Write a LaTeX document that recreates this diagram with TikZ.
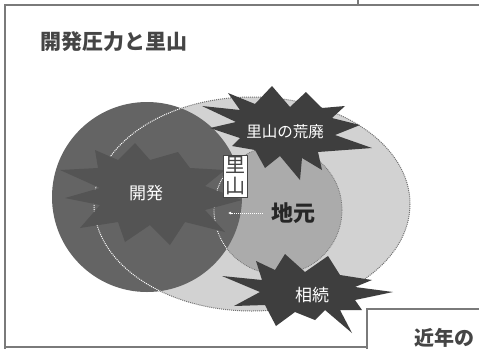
\documentclass[tikz,border=0pt]{standalone}
\usepackage{fontspec}
\newfontfamily\jp{Noto Sans CJK JP}
\usetikzlibrary{arrows.meta}
\definecolor{inkgray}{HTML}{454545}
\definecolor{darkdisc}{HTML}{646464}
\definecolor{stardark}{HTML}{3E3E3E}
\definecolor{discstar}{HTML}{545454}
\definecolor{lightell}{HTML}{D2D2D2}
\definecolor{hatchgray}{HTML}{ABABAB}
\definecolor{framegray}{HTML}{7A7A7A}
\begin{document}
\begin{tikzpicture}[x=1pt,y=-1pt,
  frameline/.style={draw=framegray,line width=1.4pt},
  starshape/.style={fill=stardark},
  whitelabel/.style={text=white,font=\jp\fontsize{15.5}{15.5}\selectfont,inner sep=0pt},
  titletext/.style={text=inkgray,font=\jp\bfseries\fontsize{21}{21}\selectfont,inner sep=0pt,anchor=west},
  vbox/.style={fill=white,draw=inkgray,line width=0.6pt,inner xsep=2pt,inner ysep=2pt,align=center,text=inkgray,font=\jp\fontsize{20}{21}\selectfont}]
\useasboundingbox (0,0) rectangle (479,349);
\clip (0,0) rectangle (479,349);
\fill[white] (0,0) rectangle (479,349);
% frame
\draw[frameline] (5,349) -- (5,5) -- (479,5);
\draw[frameline] (358,0) -- (358,5);
\draw[frameline] (5,347) -- (367,347);
\draw[frameline] (367,349) -- (367,309) -- (479,309);
% title
\node[titletext] (title) at (40,42) {開発圧力と里山};
% large light ellipse
\fill[lightell] (252,204) ellipse [x radius=158, y radius=107];
\draw[black!55,line width=1pt,densely dotted] (252,204) ellipse [x radius=158, y radius=107];
% hatched circle
\fill[hatchgray] (278,210) circle [radius=64];
\draw[black!55,line width=0.8pt,densely dotted] (278,210) circle [radius=64];
% dark disc
\fill[darkdisc] (147,197) circle [radius=95];
\begin{scope}
  \clip (147,197) circle [radius=95];
  \draw[white,line width=1pt,densely dotted] (252,204) ellipse [x radius=158, y radius=107];
  \draw[white,line width=0.9pt,densely dotted] (278,210) circle [radius=64];
\end{scope}
% star behind 開発 (subtle)
\fill[discstar] (60,170) -- (98,168) -- (95,150) -- (118,160) -- (135,143) -- (150,160) -- (178,152)
  -- (190,168) -- (225,170) -- (205,186) -- (242,200) -- (205,210) -- (225,232) -- (185,222)
  -- (170,245) -- (150,225) -- (125,242) -- (118,222) -- (80,228) -- (100,205) -- (65,198) -- (100,188) -- cycle;
% top star
\fill[starshape] (202,106) -- (240,110) -- (228,93) -- (255,104) -- (272,86) -- (290,107)
  -- (306,92) -- (322,108) -- (345,106) -- (332,118) -- (360,125) -- (335,135) -- (372,148)
  -- (318,152) -- (322,170) -- (302,158) -- (300,180) -- (280,156) -- (265,168) -- (255,150)
  -- (232,146) -- (240,138) -- (210,128) -- (236,122) -- cycle;
% bottom star
\fill[starshape] (222,276) -- (262,280) -- (256,261) -- (275,270) -- (285,254) -- (305,272)
  -- (328,256) -- (340,275) -- (372,280) -- (355,287) -- (393,292) -- (355,300) -- (362,310)
  -- (340,310) -- (352,333) -- (325,310) -- (315,320) -- (295,312) -- (276,326) -- (265,305)
  -- (234,306) -- (260,292) -- cycle;
% labels
\node[whitelabel,font=\jp\fontsize{17}{17}\selectfont] (kaihatsu) at (146,193) {開発};
\node[whitelabel] (kouhai) at (285,132) {里山の荒廃};
\node[whitelabel,font=\jp\fontsize{17}{17}\selectfont] (souzoku) at (312,295) {相続};
\node[vbox] (satoyama) at (235,176) {里\\山};
\node[text=black!85,font=\jp\bfseries\fontsize{22}{22}\selectfont,inner sep=0pt] (jimoto) at (293,213) {地元};
\coordinate (arrowend) at (228,213);
\draw[white,line width=1pt,densely dotted,-{Latex[length=3pt,width=3pt]}] (jimoto.west) ++(-8,0) -- (arrowend);
% bottom-right box text
\node[text=inkgray,font=\jp\bfseries\fontsize{20}{20}\selectfont,inner sep=0pt,anchor=west] (kinnen) at (414,338) {近年の};
\end{tikzpicture}
\end{document}
